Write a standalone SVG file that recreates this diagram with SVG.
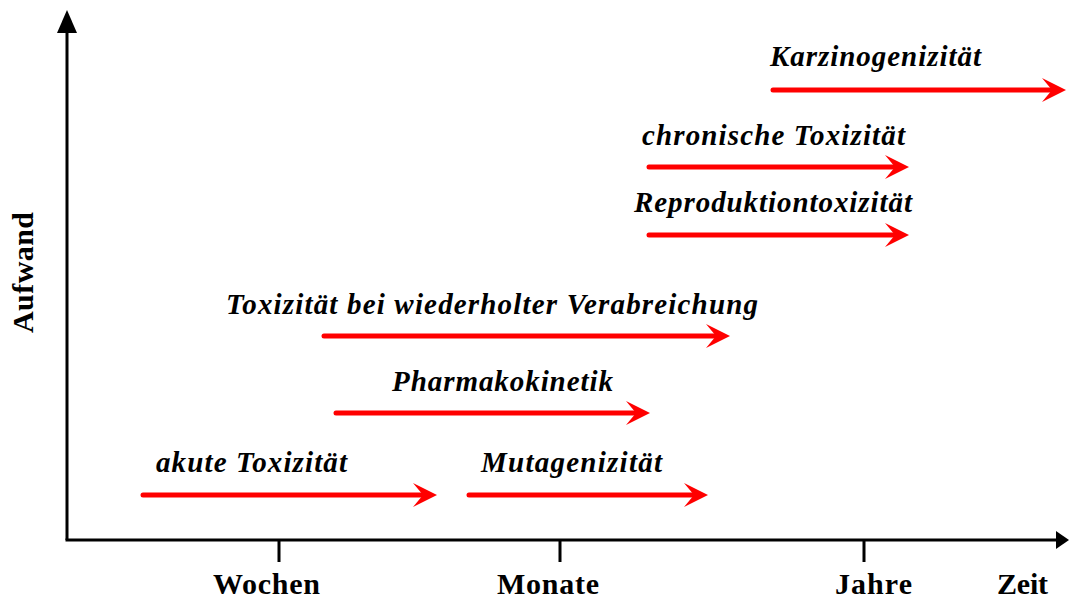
<svg xmlns="http://www.w3.org/2000/svg" width="1069" height="601" viewBox="0 0 1069 601">
<style>
.lbl{font-family:'Liberation Serif','DejaVu Serif',serif;font-weight:bold;font-style:italic;font-size:29px;fill:#000}
.ax{font-family:'Liberation Serif','DejaVu Serif',serif;font-weight:bold;font-size:30px;fill:#000}
.axis{stroke:#000;stroke-width:3;fill:none}
.arr{stroke:#ff0000;stroke-width:5;stroke-linecap:round;fill:none;marker-end:url(#ra)}
</style>
<defs>
<marker id="ra" markerUnits="userSpaceOnUse" markerWidth="26" markerHeight="26" viewBox="0 0 26 26" refX="12" refY="12" orient="auto">
<path d="M24,12 L0,0 L10,12 L0,24 Z" fill="#ff0000"/>
</marker>
</defs>
<rect width="1069" height="601" fill="#fff"/>
<g id="axes">
<path class="axis" d="M67,540 V30"/>
<polygon points="67,10 57,33 77,33" fill="#000"/>
<path class="axis" d="M65.5,540 H1058"/>
<polygon points="1069,540 1056,531 1056,549" fill="#000"/>
<path class="axis" d="M279,540 V562 M560,540 V562 M864,540 V562"/>
<text class="ax" x="213" y="594" textLength="107" lengthAdjust="spacing">Wochen</text>
<text class="ax" x="497" y="594" textLength="102" lengthAdjust="spacing">Monate</text>
<text class="ax" x="835" y="594" textLength="77" lengthAdjust="spacing">Jahre</text>
<text class="ax" x="997" y="594" textLength="51" lengthAdjust="spacing">Zeit</text>
<text class="ax" transform="translate(33,333) rotate(-90)" textLength="121" lengthAdjust="spacing">Aufwand</text>
</g>
<g id="connectors">
<path class="arr" d="M143,495 H425"/>
<path class="arr" d="M469,495 H696"/>
<path class="arr" d="M336,413 H638"/>
<path class="arr" d="M324,336 H718"/>
<path class="arr" d="M649,235 H897"/>
<path class="arr" d="M649,167 H897"/>
<path class="arr" d="M773,90 H1054"/>
</g>
<g id="akute"><text class="lbl" x="156" y="472" textLength="191" lengthAdjust="spacing">akute Toxizität</text></g>
<g id="mutagen"><text class="lbl" x="481" y="472" textLength="181" lengthAdjust="spacing">Mutagenizität</text></g>
<g id="pharma"><text class="lbl" x="392" y="391" textLength="221" lengthAdjust="spacing">Pharmakokinetik</text></g>
<g id="wiederholt"><text class="lbl" x="226" y="314" textLength="532" lengthAdjust="spacing">Toxizität bei wiederholter Verabreichung</text></g>
<g id="repro"><text class="lbl" x="634" y="212" textLength="278" lengthAdjust="spacing">Reproduktiontoxizität</text></g>
<g id="chronisch"><text class="lbl" x="642" y="145" textLength="263" lengthAdjust="spacing">chronische Toxizität</text></g>
<g id="karzino"><text class="lbl" x="770" y="66" textLength="211" lengthAdjust="spacing">Karzinogenizität</text></g>
</svg>
